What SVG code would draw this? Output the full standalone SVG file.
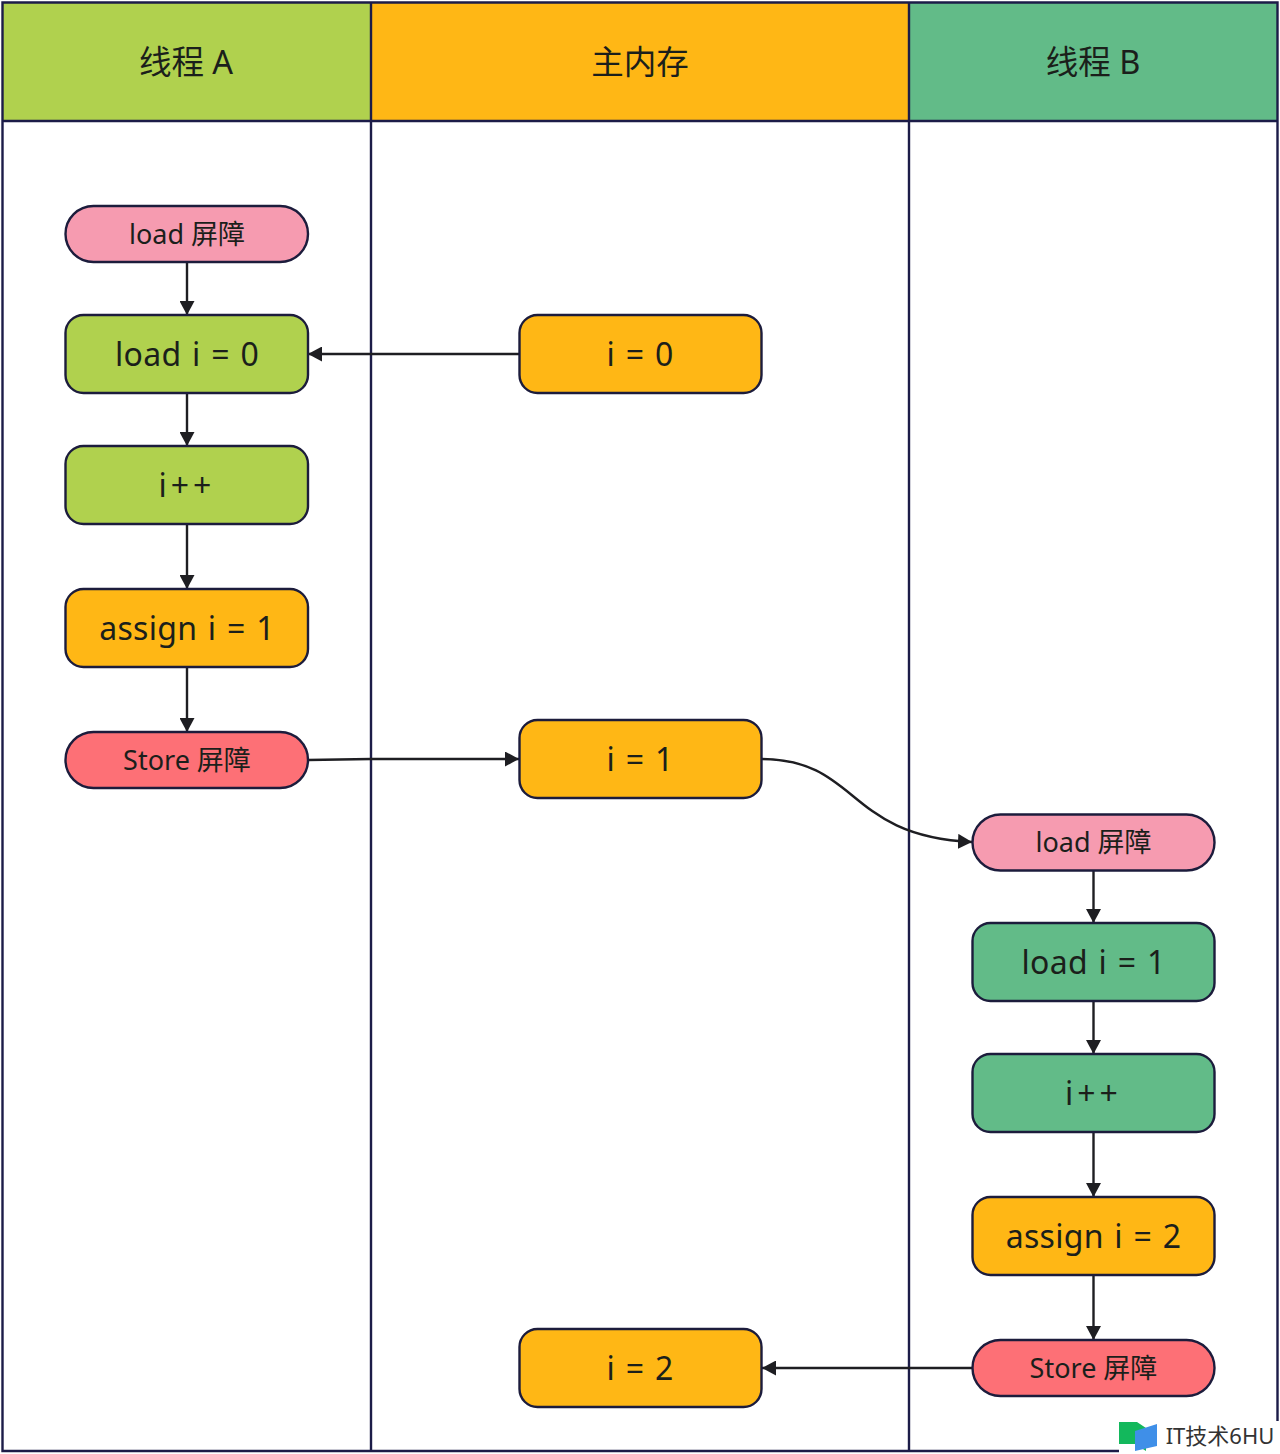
<svg xmlns="http://www.w3.org/2000/svg" width="1280" height="1454" viewBox="0 0 1280 1454">
<style>
text{font-family:"Noto Sans","Noto Sans CJK SC","Liberation Sans",sans-serif;fill:#1b1f1b;text-anchor:middle;dominant-baseline:central}
.h{font-size:32.500px}.b{font-size:32px;letter-spacing:.3px;word-spacing:2px}.inc{font-size:32px;letter-spacing:4px}.p{font-size:27px}
.n{stroke:#1c1c3c;stroke-width:2.400}
.pink{fill:#f69bb0}.red{fill:#fd7076}.lime{fill:#b0d14e}.amber{fill:#ffb715}.green{fill:#62bb88}
.c{fill:none;stroke:#1e1e22;stroke-width:2.400}
.grid{fill:none;stroke:#1c1c48;stroke-width:2.400}
</style>
<defs><marker id="a" markerUnits="userSpaceOnUse" markerWidth="15" markerHeight="15" refX="14" refY="7.5" orient="auto"><path d="M0 0L14 7.5L0 15Z" fill="#1e1e22"/></marker></defs>
<rect width="1280" height="1454" fill="#fff"/>
<g id="lanes">
<rect x="2.500" y="2.500" width="368.500" height="118.500" class="lime"/>
<rect x="371" y="2.500" width="538" height="118.500" class="amber"/>
<rect x="909" y="2.500" width="368.500" height="118.500" class="green"/>
<path class="grid" d="M2.500 2.500H1277.500V1451H2.500ZM2.500 121H1277.500M371 2.500V1451M909 2.500V1451"/>
<text class="h" x="186" y="61">线程 A</text>
<text class="h" x="640" y="61">主内存</text>
<text class="h" x="1093" y="61">线程 B</text>
</g>
<g id="connectors">
<path class="c" marker-end="url(#a)" d="M187 262V315"/>
<path class="c" marker-end="url(#a)" d="M187 393V446"/>
<path class="c" marker-end="url(#a)" d="M187 524V589"/>
<path class="c" marker-end="url(#a)" d="M187 667V732"/>
<path class="c" marker-end="url(#a)" d="M519 354H308"/>
<path class="c" marker-end="url(#a)" d="M308 760L371 759H519"/>
<path class="c" marker-end="url(#a)" d="M762 759C860 760 845 836 972 842"/>
<path class="c" marker-end="url(#a)" d="M1093.500 871V923"/>
<path class="c" marker-end="url(#a)" d="M1093.500 1001V1054"/>
<path class="c" marker-end="url(#a)" d="M1093.500 1132V1197"/>
<path class="c" marker-end="url(#a)" d="M1093.500 1275V1340"/>
<path class="c" marker-end="url(#a)" d="M972 1368H762"/>
</g>
<g id="a-load-barrier"><rect class="n pink" x="65.500" y="206" width="242.500" height="56" rx="28"/><text class="p" x="187" y="233">load 屏障</text></g>
<g id="a-load"><rect class="n lime" x="65.500" y="315" width="242.500" height="78" rx="18"/><text class="b" x="187" y="353">load i = 0</text></g>
<g id="a-inc"><rect class="n lime" x="65.500" y="446" width="242.500" height="78" rx="18"/><text class="inc" x="187" y="484">i++</text></g>
<g id="a-assign"><rect class="n amber" x="65.500" y="589" width="242.500" height="78" rx="18"/><text class="b" x="187" y="627">assign i = 1</text></g>
<g id="a-store"><rect class="n red" x="65.500" y="732" width="242.500" height="56" rx="28"/><text class="p" x="187" y="759">Store 屏障</text></g>
<g id="m-0"><rect class="n amber" x="519.500" y="315" width="242" height="78" rx="18"/><text class="b" x="640" y="353">i = 0</text></g>
<g id="m-1"><rect class="n amber" x="519.500" y="720" width="242" height="78" rx="18"/><text class="b" x="640" y="758">i = 1</text></g>
<g id="m-2"><rect class="n amber" x="519.500" y="1329" width="242" height="78" rx="18"/><text class="b" x="640" y="1367">i = 2</text></g>
<g id="b-load-barrier"><rect class="n pink" x="972.500" y="814.500" width="242" height="56" rx="28"/><text class="p" x="1093.500" y="841.500">load 屏障</text></g>
<g id="b-load"><rect class="n green" x="972.500" y="923" width="242" height="78" rx="18"/><text class="b" x="1093.500" y="961">load i = 1</text></g>
<g id="b-inc"><rect class="n green" x="972.500" y="1054" width="242" height="78" rx="18"/><text class="inc" x="1093.500" y="1092">i++</text></g>
<g id="b-assign"><rect class="n amber" x="972.500" y="1197" width="242" height="78" rx="18"/><text class="b" x="1093.500" y="1235">assign i = 2</text></g>
<g id="b-store"><rect class="n red" x="972.500" y="1340" width="242" height="56" rx="28"/><text class="p" x="1093.500" y="1367">Store 屏障</text></g>
<g id="watermark">
<rect x="1119" y="1421" width="161" height="33" fill="#fff"/>
<path d="M1119 1422H1137L1146 1428V1451L1135 1444H1119Z" fill="#13b85c"/>
<path d="M1135 1431L1157 1424V1446L1135 1451Z" fill="#3f8fe8"/>
<text x="1220" y="1435" style="font-size:22px;fill:#333">IT技术6HU</text>
</g>
</svg>
